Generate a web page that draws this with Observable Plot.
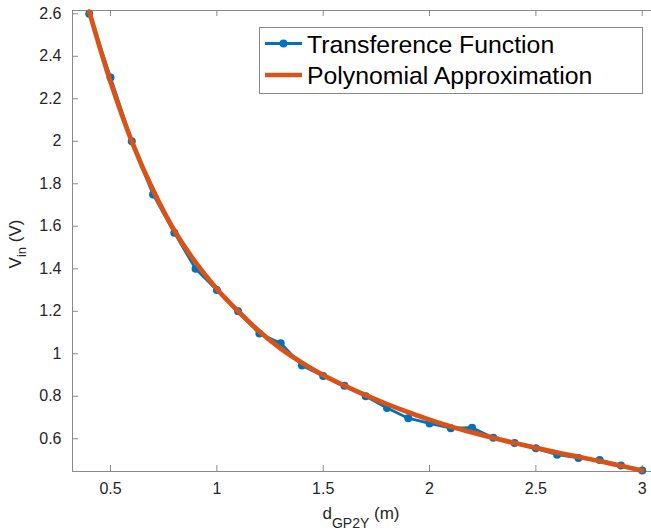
<!DOCTYPE html>
<html><head><meta charset="utf-8">
<script src="https://cdn.jsdelivr.net/npm/d3@7"></script>
<script src="https://cdn.jsdelivr.net/npm/@observablehq/plot@0.6"></script>
<style>
body{margin:0;background:#fff}
#chart svg{font-family:"Liberation Sans",Arial,Helvetica,sans-serif}
</style>
</head><body><div id="chart"></div>
<script>
// ---- data ----
const distance = [0.4,0.5,0.6,0.7,0.8,0.9,1.0,1.1,1.2,1.3,1.4,1.5,1.6,1.7,1.8,1.9,2.0,2.1,2.2,2.3,2.4,2.5,2.6,2.7,2.8,2.9,3.0];
const measuredV = [2.6,2.3,2.0,1.75,1.57,1.4,1.3,1.2,1.095,1.05,0.945,0.895,0.85,0.8,0.745,0.697,0.672,0.65,0.652,0.605,0.58,0.555,0.525,0.51,0.5,0.474,0.451];
const polyV = [2.61,2.28,2.0,1.77,1.58,1.43,1.305,1.2,1.105,1.025,0.958,0.9,0.85,0.805,0.763,0.725,0.69,0.658,0.63,0.604,0.58,0.557,0.535,0.515,0.495,0.473,0.45];
const xTicks = [0.5,1,1.5,2,2.5,3];
const yTicks = [0.6,0.8,1.0,1.2,1.4,1.6,1.8,2.0,2.2,2.4,2.6];
const seriesNames = ["Transference Function","Polynomial Approximation"];
const seriesColors = ["#0072BD","#D95319"];
const xDomain = [0.3213, 3.0436];
const yDomain = [0.446, 2.6155];

const measured = distance.map((d,i)=>({x:d, y:measuredV[i]}));
const poly = distance.map((d,i)=>({x:d, y:polyV[i]}));

const axisColor = "#8a8a8a";
const textColor = "#262626";
const W = 651, H = 530, mL = 72, mR = 0, mT = 10, mB = 59;
const innerW = W - mL - mR, innerH = H - mT - mB, tickLen = 6;

const plot = Plot.plot({
  width: W, height: H,
  marginLeft: mL, marginRight: mR, marginTop: mT, marginBottom: mB,
  x: {domain: xDomain},
  y: {domain: yDomain},
  style: {background: "#fff", fontFamily: "Liberation Sans, Arial, sans-serif"},
  marks: [
    Plot.ruleX([xDomain[0]], {stroke: axisColor}),
    Plot.ruleY([yDomain[0], yDomain[1]], {stroke: axisColor}),
    Plot.ruleX(xTicks, {stroke: axisColor, insetTop: innerH - tickLen}),
    Plot.ruleX(xTicks, {stroke: axisColor, insetBottom: innerH - tickLen}),
    Plot.ruleY(yTicks, {stroke: axisColor, insetRight: innerW - tickLen}),
    Plot.axisX({ticks: xTicks, anchor: "bottom", tickSize: 0, tickPadding: 11.5, fontSize: 16, fill: textColor, tickFormat: d => String(d), label: null}),
    Plot.axisY({ticks: yTicks, anchor: "left", tickSize: 0, tickPadding: 11, fontSize: 16, fill: textColor, tickFormat: d => String(+d.toFixed(1)), label: null}),
    Plot.line(measured, {x: "x", y: "y", stroke: seriesColors[0], strokeWidth: 2.8}),
    Plot.dot(measured, {x: "x", y: "y", r: 4, fill: seriesColors[0]}),
    Plot.line(poly, {x: "x", y: "y", stroke: seriesColors[1], strokeWidth: 4.8, curve: "catmull-rom"})
  ]
});
document.getElementById("chart").appendChild(plot);

const svg = d3.select(plot);
// y label
const yl = svg.append("text")
  .attr("transform", "translate(21,244) rotate(-90)")
  .attr("text-anchor", "middle").attr("fill", textColor).attr("font-size", 17);
yl.append("tspan").text("V");
yl.append("tspan").attr("font-size", 13).attr("dy", 5).text("in");
yl.append("tspan").attr("dy", -5).text(" (V)");
// x label
const xl = svg.append("text")
  .attr("x", 361).attr("y", 519)
  .attr("text-anchor", "middle").attr("fill", textColor).attr("font-size", 17);
xl.append("tspan").text("d");
xl.append("tspan").attr("font-size", 14).attr("dy", 9).text("GP2Y");
xl.append("tspan").attr("dy", -9).text(" (m)");

// legend
const lg = svg.append("g").attr("text-anchor", "start");
lg.append("rect").attr("x", 259.5).attr("y", 27.5).attr("width", 383).attr("height", 66)
  .attr("fill", "#fff").attr("stroke", axisColor).attr("stroke-width", 1);
const rowsY = [43.5, 75];
seriesNames.forEach((name, i) => {
  lg.append("line").attr("x1", 265).attr("x2", 302).attr("y1", rowsY[i]).attr("y2", rowsY[i])
    .attr("stroke", seriesColors[i]).attr("stroke-width", i === 0 ? 3 : 4.5);
  if (i === 0) lg.append("circle").attr("cx", 283.5).attr("cy", rowsY[i]).attr("r", 4).attr("fill", seriesColors[i]);
  lg.append("text").attr("x", 307).attr("y", rowsY[i] + 9).attr("text-anchor", "start")
    .attr("font-size", 24.8).attr("fill", "#000").text(name);
});
</script>
</body></html>
